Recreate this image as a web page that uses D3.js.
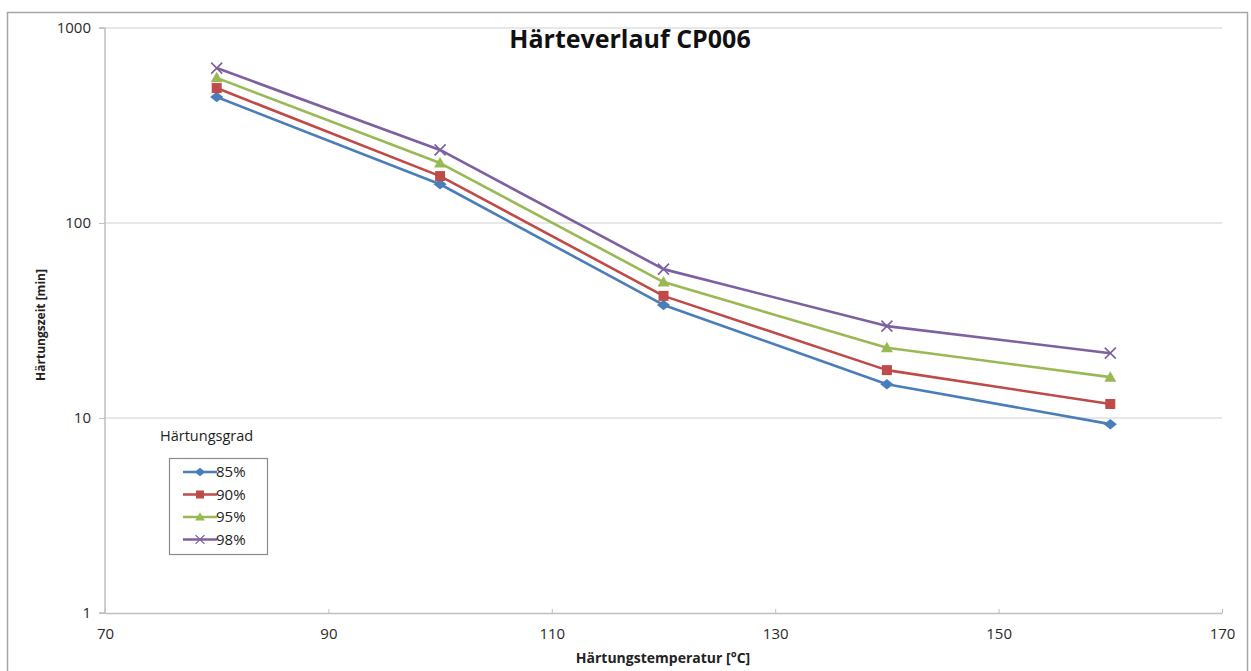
<!DOCTYPE html>
<html><head><meta charset="utf-8">
<script src="https://cdn.jsdelivr.net/npm/d3@7"></script>
<style>body{margin:0;background:#fff}svg{display:block}text{font-family:"Open Sans",sans-serif}</style>
</head><body>
<svg id="c" width="1251" height="671"></svg>
<script>
const temperatures = [80, 100, 120, 140, 160];
const s85 = [443, 158, 38, 14.9, 9.3];
const s90 = [492, 174, 42.3, 17.6, 11.8];
const s95 = [555, 203, 49.8, 22.9, 16.2];
const s98 = [623, 237, 58, 29.6, 21.5];
const seriesNames = ["85%", "90%", "95%", "98%"];
const xTicks = [70, 90, 110, 130, 150, 170];
const yTicks = [1, 10, 100, 1000];

const series = [
  {name: seriesNames[0], values: s85, color: "#4A7EBB", marker: "diamond"},
  {name: seriesNames[1], values: s90, color: "#BE4B48", marker: "square"},
  {name: seriesNames[2], values: s95, color: "#98B954", marker: "triangle"},
  {name: seriesNames[3], values: s98, color: "#7D60A0", marker: "x"}
];

const svg = d3.select("#c");
// outer chart border
svg.append("rect").attr("x", 7.5).attr("y", 12.5).attr("width", 1240).attr("height", 700)
  .attr("fill", "none").attr("stroke", "#a6a6a6").attr("stroke-width", 1.5);

const x = d3.scaleLinear().domain([70, 170]).range([105, 1222]);
const y = d3.scaleLog().domain([1, 1000]).range([613, 28]);

// gridlines
svg.append("g").selectAll("line").data(yTicks.filter(d => d > 1)).join("line")
  .attr("x1", x(70)).attr("x2", x(170)).attr("y1", d => y(d)).attr("y2", d => y(d))
  .attr("stroke", "#d0d0d0").attr("stroke-width", 1.2);

// axes
const xAxis = d3.axisBottom(x).tickValues(xTicks).tickSize(0).tickPadding(15).tickFormat(d3.format("d"));
const gx = svg.append("g").attr("transform", `translate(0,${y(1)})`).call(xAxis);
gx.select(".domain").attr("stroke", "#bfbfbf").attr("stroke-width", 1.5);
gx.selectAll(".tick line").remove();
gx.selectAll(".tick").append("line").attr("y1", 0).attr("y2", -4).attr("stroke", "#bfbfbf");
gx.selectAll("text").attr("font-size", 15).attr("fill", "#2a2a2a").attr("font-family", "Open Sans");

const yAxis = d3.axisLeft(y).tickValues(yTicks).tickSize(6).tickPadding(8).tickFormat(d3.format("d"));
const gy = svg.append("g").attr("transform", `translate(${x(70)},0)`).call(yAxis);
gy.select(".domain").attr("stroke", "#bfbfbf").attr("stroke-width", 1.5).attr("d", `M-6,${y(1)}H0V${y(1000)}H-6`);
gy.selectAll(".tick line").attr("stroke", "#bfbfbf");
gy.selectAll("text").attr("font-size", 15).attr("fill", "#2a2a2a").attr("font-family", "Open Sans");

// title and axis labels
svg.append("text").attr("x", 630).attr("y", 48).attr("text-anchor", "middle")
  .attr("font-size", 25).attr("font-weight", "bold").attr("fill", "#111").text("Härteverlauf CP006");
svg.append("text").attr("x", 663).attr("y", 663).attr("text-anchor", "middle")
  .attr("font-size", 14).attr("font-weight", "bold").attr("fill", "#222").text("Härtungstemperatur [°C]");
svg.append("text").attr("transform", "translate(45,325) rotate(-90)").attr("text-anchor", "middle")
  .attr("font-size", 12).attr("font-weight", "bold").attr("fill", "#222").text("Härtungszeit [min]");

function drawMarker(g, type, color) {
  if (type === "diamond") g.append("path").attr("d", d3.symbol(d3.symbolDiamond2, 70)()).attr("fill", color).attr("transform", "scale(1.25,1)");
  else if (type === "square") g.append("rect").attr("x", -5).attr("y", -5).attr("width", 10).attr("height", 10).attr("fill", color);
  else if (type === "triangle") g.append("path").attr("d", "M0,-6L6,4.5H-6Z").attr("fill", color);
  else g.append("path").attr("d", "M-5.5,-5.5L5.5,5.5M-5.5,5.5L5.5,-5.5").attr("stroke", color).attr("stroke-width", 1.6).attr("fill", "none");
}

const line = d3.line().x((d, i) => x(temperatures[i])).y(d => y(d));
series.forEach(s => {
  svg.append("path").attr("d", line(s.values)).attr("fill", "none").attr("stroke", s.color)
    .attr("stroke-width", 2.6).attr("stroke-linejoin", "round");
  s.values.forEach((v, i) => {
    const g = svg.append("g").attr("transform", `translate(${x(temperatures[i])},${y(v)})`);
    drawMarker(g, s.marker, s.color);
  });
});

// legend
svg.append("text").attr("x", 160).attr("y", 441).attr("font-size", 14.5).attr("fill", "#222").text("Härtungsgrad");
svg.append("rect").attr("x", 169.5).attr("y", 458.5).attr("width", 98).attr("height", 96)
  .attr("fill", "#fff").attr("stroke", "#8a8a8a").attr("stroke-width", 1.2);
series.forEach((s, i) => {
  const ly = 472 + i * 22.5;
  svg.append("line").attr("x1", 183).attr("x2", 217).attr("y1", ly).attr("y2", ly)
    .attr("stroke", s.color).attr("stroke-width", 2.4);
  const g = svg.append("g").attr("transform", `translate(200,${ly}) scale(0.8)`);
  drawMarker(g, s.marker, s.color);
  svg.append("text").attr("x", 216).attr("y", ly + 5).attr("font-size", 15).attr("fill", "#222").text(s.name);
});
</script>
</body></html>
